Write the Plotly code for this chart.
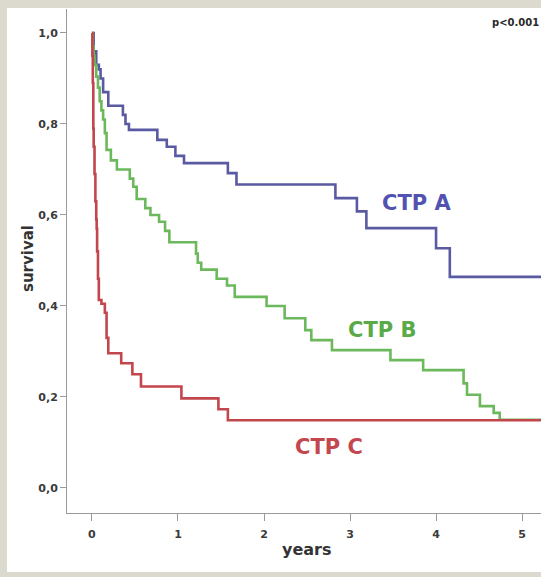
import plotly.graph_objects as go

# ---- data ----
t_a = [0, 0.02, 0.05, 0.08, 0.10, 0.13, 0.19, 0.36, 0.39, 0.43, 0.76, 0.87, 0.97, 1.07, 1.58, 1.68, 2.83, 3.08, 3.19, 4.00, 4.16, 5.40]
s_a = [1.0, 0.96, 0.93, 0.92, 0.90, 0.87, 0.84, 0.82, 0.80, 0.787, 0.765, 0.75, 0.73, 0.714, 0.692, 0.667, 0.637, 0.608, 0.571, 0.527, 0.464, 0.464]

t_b = [0, 0.01, 0.02, 0.03, 0.05, 0.07, 0.09, 0.11, 0.13, 0.15, 0.17, 0.22, 0.29, 0.44, 0.48, 0.52, 0.62, 0.68, 0.78, 0.85, 0.90,
       1.21, 1.23, 1.27, 1.45, 1.57, 1.66, 2.03, 2.24, 2.48, 2.55, 2.79, 3.47, 3.85, 4.32, 4.36, 4.51, 4.67, 4.74, 5.40]
s_b = [1.0, 0.97, 0.95, 0.93, 0.904, 0.88, 0.85, 0.83, 0.81, 0.78, 0.743, 0.72, 0.70, 0.68, 0.662, 0.635, 0.615, 0.60, 0.585, 0.565, 0.54,
       0.515, 0.495, 0.48, 0.46, 0.445, 0.42, 0.40, 0.373, 0.347, 0.325, 0.303, 0.281, 0.259, 0.23, 0.205, 0.18, 0.165, 0.15, 0.15]

t_c = [0, 0.005, 0.01, 0.016, 0.02, 0.03, 0.04, 0.05, 0.055, 0.06, 0.07, 0.08, 0.11, 0.15, 0.17, 0.19, 0.34, 0.47, 0.57, 1.04, 1.47, 1.58, 5.40]
s_c = [1.0, 0.95, 0.89, 0.79, 0.75, 0.69, 0.63, 0.59, 0.57, 0.52, 0.46, 0.413, 0.405, 0.385, 0.33, 0.296, 0.274, 0.25, 0.223, 0.197, 0.173, 0.149, 0.149]

groups = ["CTP A", "CTP B", "CTP C"]
label_pos_x = [3.77, 3.37, 2.75]
label_pos_y = [0.627, 0.347, 0.089]

y_ticks = [0.0, 0.2, 0.4, 0.6, 0.8, 1.0]
y_tick_labels = ["0,0", "0,2", "0,4", "0,6", "0,8", "1,0"]
x_ticks = [0, 1, 2, 3, 4, 5]
x_tick_labels = ["0", "1", "2", "3", "4", "5"]

line_colors = ["#5a5aa2", "#6cb85c", "#c2464c"]
text_colors = ["#5252b0", "#5aaa48", "#c4464e"]

FONT = "DejaVu Sans"

fig = go.Figure()
for t, s, col in [(t_a, s_a, line_colors[0]), (t_b, s_b, line_colors[1]), (t_c, s_c, line_colors[2])]:
    fig.add_trace(go.Scatter(x=t, y=s, mode="lines", line=dict(color=col, width=2.6, shape="hv"),
                             showlegend=False, hoverinfo="skip"))

annotations = []
for g, gx, gy, tc in zip(groups, label_pos_x, label_pos_y, text_colors):
    annotations.append(dict(x=gx, y=gy, xref="x", yref="y", text="<b>%s</b>" % g, showarrow=False,
                            font=dict(family=FONT, size=21, color=tc)))

annotations.append(dict(x=1.0, y=1.0, xref="paper", yref="paper", xanchor="right", yanchor="top",
                        text="<b>p<0.001</b>", showarrow=False, yshift=-6,
                        font=dict(family=FONT, size=10, color="#2a2a2a")))
annotations.append(dict(x=(307 - 67) / 474, y=(513 - 561) / 504, xref="paper", yref="paper",
                        text="<b>years</b>", showarrow=False,
                        font=dict(family=FONT, size=16, color="#333333")))
annotations.append(dict(x=(17 - 67) / 474, y=(513 - 259) / 504, xref="paper", yref="paper",
                        text="<b>survival</b>", showarrow=False, textangle=-90,
                        font=dict(family=FONT, size=15, color="#333333")))

fig.update_layout(
    width=541, height=577,
    margin=dict(l=67, r=0, t=9, b=64),
    paper_bgcolor="#dcd9cf",
    plot_bgcolor="#eaeaea",
    annotations=annotations,
    shapes=[dict(type="rect", xref="paper", yref="paper",
                 x0=(7 - 67) / 474, x1=(545 - 67) / 474, y0=(513 - 572) / 504, y1=(513 - 8) / 504,
                 fillcolor="#ffffff", line=dict(width=0), layer="below")],
)
fig.update_xaxes(range=[-0.29, 5.22], tickvals=x_ticks, ticktext=["<b>%s</b>" % s for s in x_tick_labels],
                 showgrid=False, zeroline=False, showline=True, linecolor="#9a9a9a", linewidth=1,
                 ticks="outside", ticklen=7, tickcolor="#9a9a9a", ticklabelstandoff=4,
                 tickfont=dict(family=FONT, size=11, color="#3a3a3a"))
fig.update_yaxes(range=[-0.055, 1.0527], tickvals=y_ticks, ticktext=["<b>%s</b>" % s for s in y_tick_labels],
                 showgrid=False, zeroline=False, showline=True, linecolor="#9a9a9a", linewidth=1,
                 ticks="outside", ticklen=6, tickcolor="#9a9a9a",
                 tickfont=dict(family=FONT, size=11, color="#3a3a3a"))

fig.write_html("out.html")
